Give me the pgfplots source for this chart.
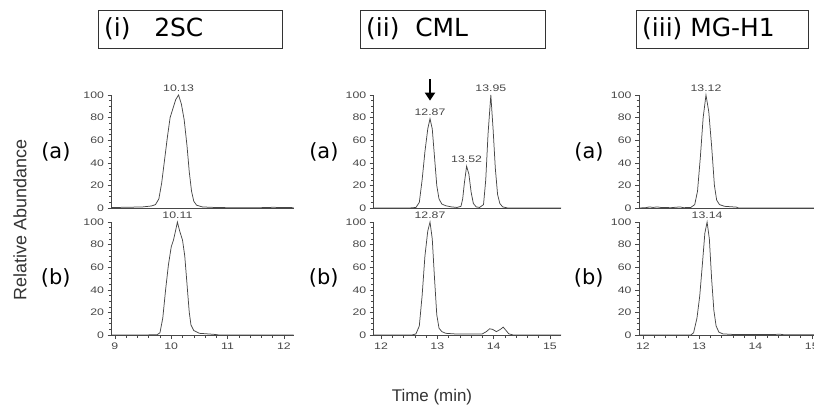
\documentclass[border=0pt]{standalone}
\usepackage{fontspec}
\setmainfont{Liberation Sans}
\newfontfamily\tickfamily[FakeStretch=1.3]{Liberation Sans}
\newfontfamily\labfamily{DejaVu Sans}
\newfontfamily\titlefamily{DejaVu Sans}
\usepackage{pgfplots}
\pgfplotsset{compat=1.18}
\usetikzlibrary{arrows.meta}

\newcommand{\tickfont}{\tickfamily\fontsize{9.5}{10}\selectfont}
\colorlet{ink}{black!72}

\pgfplotsset{
  chrom/.style={
    scale only axis,
    height=113bp,
    ymin=0, ymax=100,
    axis x line*=bottom,
    axis y line*=left,
    axis line style={ink, line width=0.7pt, -},
    tick align=outside,
    ytick={0,20,...,100},
    minor y tick num=3,
    major tick length=4bp,
    minor tick length=2.5bp,
    tick style={ink, line width=0.5pt},
    every tick label/.append style={font=\tickfont, text=ink},
    /pgf/number format/assume math mode=true,
    clip=false,
    anchor=south west,
  },
  toprow/.style={chrom, xtick=\empty},
  botrow/.style={chrom, xtick={9,...,15}, minor x tick num=4},
  trace/.style={ink, line width=0.75pt},
}

\begin{document}
\begin{tikzpicture}[x=1bp, y=1bp]
\useasboundingbox (0,0) rectangle (814,-416);

% ---- titles
\foreach \l/\r/\t in {98/282/{(i)\ \ \ 2SC}, 360/545/{(ii)\ \ CML}, 636/808/{(iii) MG-H1}} {
  \draw[black!80, line width=0.6pt] (\l,-10) rectangle (\r,-48);
  \node[font=\titlefamily\fontsize{25}{28}\selectfont, anchor=west, inner sep=0pt] at (\l+6,-29) {\t};
}

% ---- (a)/(b) labels
\foreach \xr in {74, 342, 607} {
  \node[font=\labfamily\fontsize{21}{24}\selectfont, anchor=east] at (\xr,-152) {(a)};
  \node[font=\labfamily\fontsize{21}{24}\selectfont, anchor=east] at (\xr,-278) {(b)};
}

\node[font=\fontsize{18}{20}\selectfont, text=black!80, rotate=90] at (20,-220) {Relative Abundance};
\node[font=\fontsize{17}{20}\selectfont, text=black!80] at (432,-397) {Time (min)};

% ===== (i) 2SC
\begin{axis}[toprow, at={(111.5bp,-208bp)}, width=182bp, xmin=8.94, xmax=12.17]
\addplot[trace] coordinates {
 (8.95,0.5) (9.2,0.6) (9.5,1.0) (9.65,1.8) (9.72,3) (9.78,8) (9.83,22) (9.88,42)
 (9.93,62) (9.98,80) (10.03,88) (10.08,96) (10.13,100) (10.18,92) (10.23,78)
 (10.28,55) (10.32,32) (10.36,15) (10.40,6) (10.45,2.5) (10.55,1) (10.7,0.6)
 (11.0,0.3) (11.5,0.2) (11.8,0.6) (12.1,0.4) (12.17,0.3)
};
\node[font=\tickfont, text=ink, above] at (axis cs:10.13,100) {10.13};
\end{axis}
\begin{axis}[botrow, at={(111.5bp,-335bp)}, width=182bp, xmin=8.94, xmax=12.17]
\addplot[trace] coordinates {
 (8.95,0) (9.5,0) (9.75,0.3) (9.80,2) (9.85,15) (9.90,40) (9.95,62) (10.0,78)
 (10.04,84) (10.08,93) (10.11,100) (10.15,92) (10.2,84) (10.24,70) (10.28,45)
 (10.32,20) (10.35,9) (10.4,4) (10.5,1.5) (10.7,0.8) (10.78,0.5) (10.85,0) (12.17,0)
};
\node[font=\tickfont, text=ink, above] at (axis cs:10.11,100) {10.11};
\end{axis}

% ===== (ii) CML
\begin{axis}[toprow, at={(373.7bp,-208bp)}, width=187.5bp, xmin=11.87, xmax=15.2]
\addplot[trace] coordinates {
 (11.87,0) (12.5,0) (12.62,0.5) (12.68,5) (12.73,25) (12.78,50) (12.83,70)
 (12.87,79) (12.91,70) (12.95,45) (12.99,20) (13.03,8) (13.08,3.5) (13.15,2)
 (13.25,1) (13.35,0.5) (13.42,1.5) (13.45,8) (13.48,22) (13.52,37) (13.56,30)
 (13.60,14) (13.64,4) (13.69,1) (13.75,0.5) (13.82,3) (13.86,25) (13.90,65)
 (13.95,100) (13.99,70) (14.03,35) (14.07,12) (14.11,4) (14.16,1) (14.25,0) (15.2,0)
};
\node[font=\tickfont, text=ink, above] at (axis cs:12.87,79) {12.87};
\node[font=\tickfont, text=ink, above] at (axis cs:13.52,37) {13.52};
\node[font=\tickfont, text=ink, above] at (axis cs:13.95,100) {13.95};
\draw[-{Triangle[length=8bp,width=10bp]}, line width=2.6pt, black]
  (axis cs:12.87,114) -- (axis cs:12.87,95);
\end{axis}
\begin{axis}[botrow, at={(373.7bp,-335bp)}, width=187.5bp, xmin=11.87, xmax=15.2]
\addplot[trace] coordinates {
 (11.87,0) (12.55,0) (12.62,1) (12.68,8) (12.73,35) (12.78,70) (12.83,92)
 (12.87,100) (12.91,85) (12.95,50) (12.99,18) (13.03,6) (13.08,3) (13.15,1.5)
 (13.3,1) (13.6,0.8) (13.8,1) (13.87,3) (13.93,5.5) (13.98,5) (14.05,3)
 (14.12,5) (14.17,7) (14.22,4) (14.27,1) (14.35,0) (15.2,0)
};
\node[font=\tickfont, text=ink, above] at (axis cs:12.87,100) {12.87};
\end{axis}

% ===== (iii) MG-H1
\begin{axis}[toprow, at={(639bp,-208bp)}, width=184bp, xmin=11.93, xmax=15.2]
\addplot[trace] coordinates {
 (11.93,0) (12.05,0.3) (12.12,1) (12.18,0.5) (12.25,1) (12.32,0.5) (12.5,0.3)
 (12.66,1) (12.72,0.3) (12.85,0.5) (12.92,3) (12.97,15) (13.02,45) (13.07,80)
 (13.12,100) (13.17,85) (13.22,55) (13.27,20) (13.31,7) (13.36,3) (13.45,1.5)
 (13.6,1) (13.66,0.8) (13.7,0) (15.2,0)
};
\node[font=\tickfont, text=ink, above] at (axis cs:13.12,100) {13.12};
\end{axis}
\begin{axis}[botrow, at={(639bp,-335bp)}, width=184bp, xmin=11.93, xmax=15.2]
\addplot[trace] coordinates {
 (11.93,0) (12.85,0) (12.9,2) (12.96,15) (13.01,35) (13.06,65) (13.10,90)
 (13.14,100) (13.18,85) (13.22,50) (13.26,22) (13.30,8) (13.35,2.5) (13.42,1)
 (13.6,0.5) (14.0,0.4) (14.45,0.6) (14.5,0.3) (15.2,0.3)
};
\node[font=\tickfont, text=ink, above] at (axis cs:13.14,100) {13.14};
\end{axis}
\end{tikzpicture}
\end{document}
